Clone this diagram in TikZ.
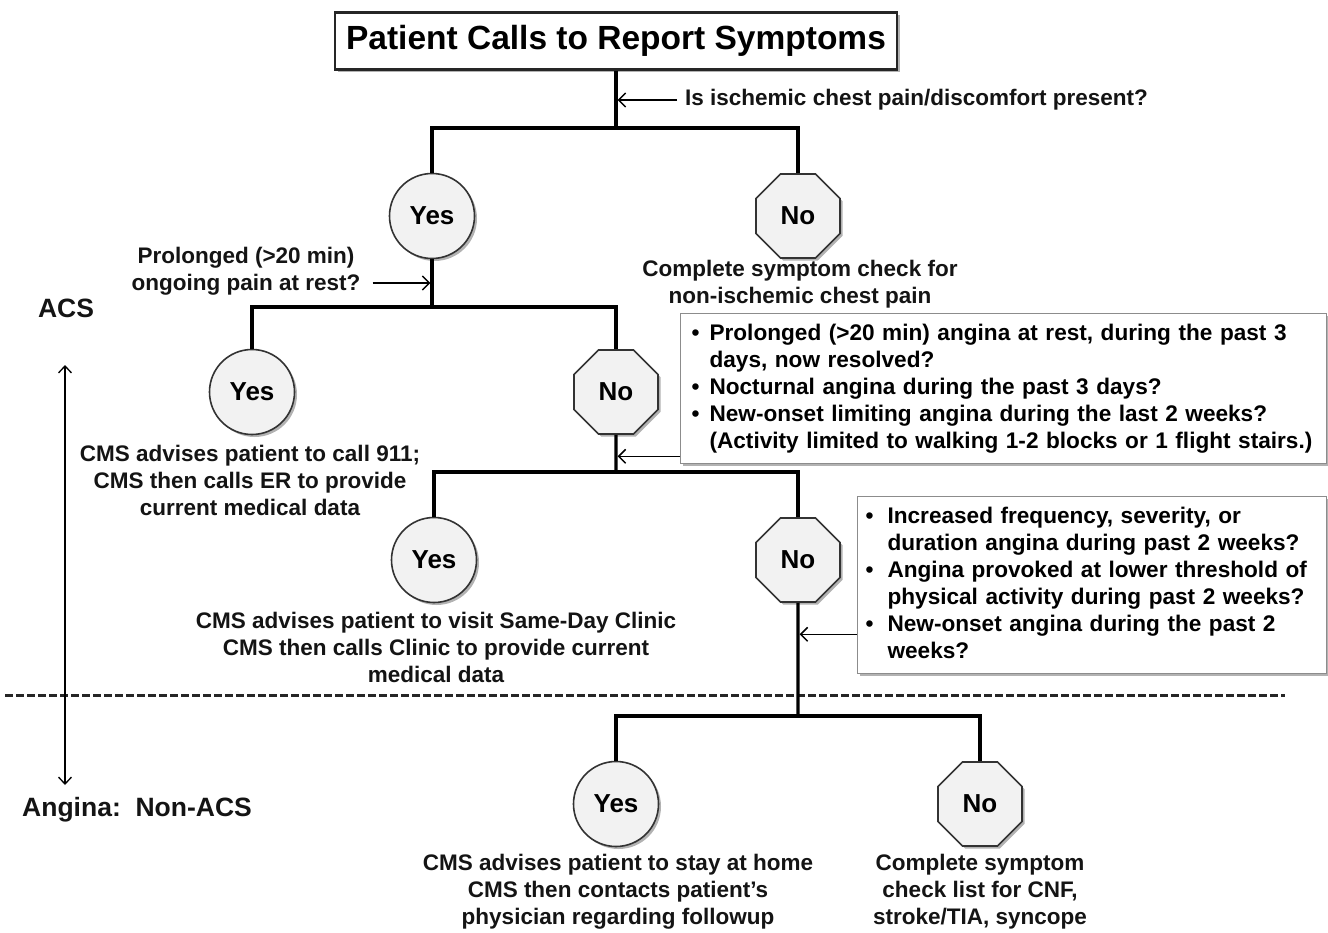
\documentclass[tikz,border=0pt]{standalone}
\usepackage{fontspec}
\setmainfont{Liberation Sans}
\usetikzlibrary{shapes.geometric,arrows.meta,shadows}
\begin{document}
\begin{tikzpicture}[x=1pt,y=-1pt,
  txt/.style={font=\fontsize{22.5}{27}\selectfont\bfseries, text=black!92, align=center, inner sep=0pt},
  side/.style={font=\fontsize{26.5}{30}\selectfont\bfseries, text=black!92, inner sep=0pt},
  shad/.style={drop shadow={shadow xshift=2.5pt, shadow yshift=-2.5pt, opacity=0.3, fill=black}},
  yesnode/.style={circle, draw=black!80, line width=1.6pt, fill=black!5, minimum size=85pt, inner sep=0pt, font=\fontsize{26}{30}\selectfont\bfseries, shad},
  nonode/.style={regular polygon, regular polygon sides=8, draw=black!80, line width=1.6pt, fill=black!5, minimum size=91pt, inner sep=0pt, font=\fontsize{26}{30}\selectfont\bfseries, shad},
  trunk/.style={line width=3.2pt, draw=black},
  arr/.style={line width=1.5pt, draw=black, -{Straight Barb[length=7pt,width=14pt,line width=1.5pt]}, shorten >=1.6pt},
  dblarr/.style={line width=1.3pt, draw=black, {Straight Barb[length=7pt,width=13pt,line width=1.3pt]}-{Straight Barb[length=7pt,width=13pt,line width=1.3pt]}},
  infobox/.style={draw=black!45, line width=1.3pt, fill=white, font=\fontsize{22.6}{27}\selectfont\bfseries, align=left, anchor=north west, shad},
  titlebox/.style={draw=black!85, line width=2.2pt, fill=white, minimum width=562pt, minimum height=57pt, inner sep=0pt, font=\fontsize{33.5}{40}\selectfont\bfseries, shad},
  sepline/.style={line width=3pt, draw=black!85, dash pattern=on 8pt off 3pt}
]
\useasboundingbox (0,0) rectangle (1328,933);
\fill[white] (0,0) rectangle (1328,933);

% dashed separator
\coordinate (dl) at (5,695);
\coordinate (dr) at (1285,695);
\draw[sepline] (dl) -- (dr);

% junctions
\coordinate (j1) at (616,128);
\coordinate (j2) at (432,307);
\coordinate (j3) at (616,472);
\coordinate (j4) at (798,716);

% title
\node[titlebox] (title) at (616,41) {Patient Calls to Report Symptoms};

% decision nodes
\node[yesnode] (yes1) at (432,216) {Yes};
\node[nonode]  (no1)  at (798,216) {No};
\node[yesnode] (yes2) at (252,392) {Yes};
\node[nonode]  (no2)  at (616,392) {No};
\node[yesnode] (yes3) at (434,560) {Yes};
\node[nonode]  (no3)  at (798,560) {No};
\node[yesnode] (yes4) at (616,804) {Yes};
\node[nonode]  (no4)  at (980,804) {No};

% connectors
\draw[trunk] (title.south) -- (j1);
\draw[trunk] (yes1.north) |- (j1) -| (no1.north);
\draw[trunk] (yes1.south) -- (j2);
\draw[trunk] (yes2.north) |- (j2) -| (no2.north);
\draw[trunk] (no2.south) -- (j3);
\draw[trunk] (yes3.north) |- (j3) -| (no3.north);
\draw[trunk] (no3.south) -- (j4);
\draw[trunk] (yes4.north) |- (j4) -| (no4.north);

% questions
\node[txt, anchor=west] (q1) at (685,100) {Is ischemic chest pain/discomfort present?};
\path ([xshift=-8pt]q1.west) coordinate (q1a);
\draw[arr] (q1a) -- (q1a -| j1);

\node[txt] (q2) at (246,271) {Prolonged (>20 min)\\ongoing pain at rest?};
\path ([shift={(12pt,-12pt)}]q2.east) coordinate (q2a);
\draw[arr] (q2a) -- (q2a -| yes1.south);

% outcome texts
\node[txt] (t1) at (800,284) {Complete symptom check for\\non-ischemic chest pain};
\node[txt] (t2) at (250,480) {CMS advises patient to call 911;\\CMS then calls ER to provide\\current medical data};
\node[txt] (t3) at (436,647) {CMS advises patient to visit Same-Day Clinic\\CMS then calls Clinic to provide current\\medical data};
\node[txt] (t4) at (618,892) {CMS advises patient to stay at home\\CMS then contacts patient’s\\physician regarding followup};
\node[txt] (t5) at (980,892) {Complete symptom\\check list for CNF,\\stroke/TIA, syncope};

% info boxes
\node[infobox, minimum width=646pt, minimum height=150pt, text width=624pt, inner xsep=11pt, inner ysep=0pt] (box1) at (680,313) {%
\begin{tabular}{@{}l@{\hspace{10pt}}l@{}}
• & Prolonged (>20 min) angina at rest, during the past 3\\
  & days, now resolved?\\
• & Nocturnal angina during the past 3 days?\\
• & New-onset limiting angina during the last 2 weeks?\\
  & (Activity limited to walking 1-2 blocks or 1 flight stairs.)
\end{tabular}};
\path ([yshift=8pt]box1.south west) coordinate (b1a);
\draw[arr] (b1a) -- (b1a -| no2.south);

\node[infobox, minimum width=469pt, minimum height=177pt, text width=453pt, inner xsep=8pt, inner ysep=0pt] (box2) at (857,496) {%
\begin{tabular}{@{}l@{\hspace{14pt}}l@{}}
• & Increased frequency, severity, or\\
  & duration angina during past 2 weeks?\\
• & Angina provoked at lower threshold of\\
  & physical activity during past 2 weeks?\\
• & New-onset angina during the past 2\\
  & weeks?
\end{tabular}};
\path ([yshift=40pt]box2.south west) coordinate (b2a);
\draw[arr] (b2a) -- (b2a -| no3.south);

% side labels
\node[side] (acs) at (66,308) {ACS};
\node[side, anchor=west] (ang) at (22,810) {Angina:\ \ Non-ACS};
\coordinate (va) at (65,365);
\coordinate (vb) at (65,785);
\draw[dblarr] (va) -- (vb);
\end{tikzpicture}
\end{document}
